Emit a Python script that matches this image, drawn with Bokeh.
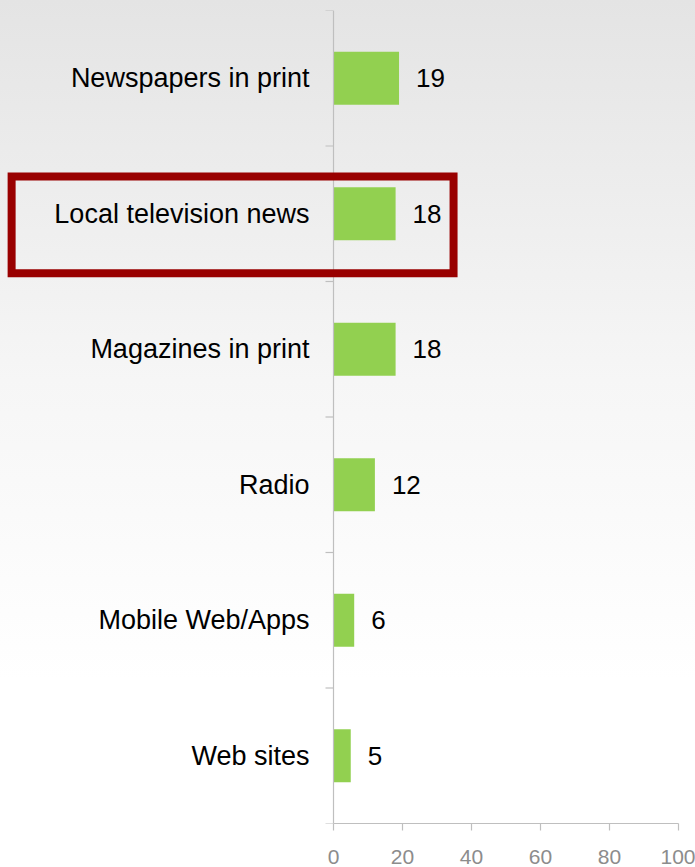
import math
from bokeh.plotting import figure
from bokeh.models import (ColumnDataSource, LabelSet, FixedTicker, BoxAnnotation,
                          GlobalInlineStyleSheet, Range1d, Span)
from bokeh.core.properties import value
from bokeh.embed import file_html
from bokeh.resources import INLINE

# ---- data ----
categories = ["Newspapers in print", "Local television news", "Magazines in print",
              "Radio", "Mobile Web/Apps", "Web sites"]
values = [19, 18, 18, 12, 6, 5]
x_ticks = [0, 20, 40, 60, 80, 100]
highlight = "Local television news"

n = len(categories)
ypos = [n - i - 0.5 for i in range(n)]
src = ColumnDataSource(dict(cat=categories, val=values, y=ypos,
                            vtxt=[str(v) for v in values]))
bounds_src = ColumnDataSource(dict(x=[0] * (n + 1), y=list(range(n + 1))))

# ---- layout ----
W, H = 695, 867
ZERO_PX = 333          # pixel position of value 0
PX_PER_UNIT = 3.45     # pixels per unit on the value axis
x_start = -ZERO_PX / PX_PER_UNIT
x_end = (W - ZERO_PX) / PX_PER_UNIT

p = figure(width=W, height=H, output_backend="svg", toolbar_location=None,
           x_range=Range1d(x_start, x_end), y_range=Range1d(0, n),
           min_border_left=0, min_border_right=0, min_border_top=10,
           min_border_bottom=44)
p.background_fill_alpha = 0
p.border_fill_alpha = 0
p.outline_line_color = None
p.grid.visible = False
p.yaxis.visible = False

FONT = "Liberation Sans"
AX = "#BFBFBF"

p.hbar(y="y", right="val", left=0, height=0.39, source=src,
       fill_color="#92D050", line_color=None)

# vertical axis line at 0 and ticks at category boundaries
p.add_layout(Span(location=0, dimension="height", line_color=AX, line_width=1.2))
p.ray(x="x", y="y", length=8, length_units="screen", angle=math.pi,
      source=bounds_src, line_color=AX, line_width=1.2)

# x axis
xa = p.xaxis[0]
xa.ticker = FixedTicker(ticks=x_ticks)
xa.bounds = (x_ticks[0], x_ticks[-1])
xa.axis_line_color = AX
xa.axis_line_width = 1.2
xa.major_tick_line_color = AX
xa.major_tick_line_width = 1.2
xa.major_tick_out = 7
xa.major_tick_in = 0
xa.minor_tick_line_color = None
xa.major_label_text_font = FONT
xa.major_label_text_font_size = "21px"
xa.major_label_text_color = "#8C8C8C"
xa.major_label_standoff = 19

cat_labels = LabelSet(x=0, y="y", text="cat", source=src, x_offset=-24,
                      text_align="right", text_baseline="middle",
                      text_font=value(FONT), text_font_size="27px",
                      text_color="#000000")
val_labels = LabelSet(x="val", y="y", text="vtxt", source=src, x_offset=17,
                      text_align="left", text_baseline="middle",
                      text_font=value(FONT), text_font_size="26px",
                      text_color="#000000")
p.add_layout(cat_labels)
p.add_layout(val_labels)

hi = categories.index(highlight)
hy = n - hi - 1
box = BoxAnnotation(left=-93.3, right=34.8, bottom=hy + 0.06, top=hy + 0.775,
                    fill_alpha=0, line_color="#990000", line_width=8, line_alpha=1,
                    line_join="miter")
p.add_layout(box)

p.stylesheets = [GlobalInlineStyleSheet(css=
    "html, body { background: linear-gradient(180deg, #e4e4e4 0px, #f6f6f6 380px, #ffffff 680px) fixed; }")]

open("out.html", "w").write(file_html(p, INLINE))
